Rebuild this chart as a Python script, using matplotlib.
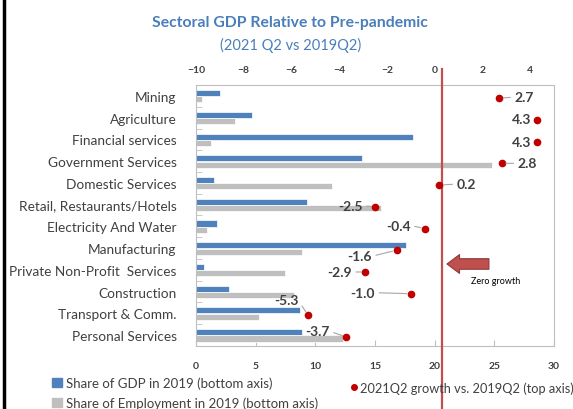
import matplotlib
matplotlib.use('Agg')
import matplotlib.pyplot as plt
from matplotlib.lines import Line2D
from matplotlib.patches import Patch
import numpy as np

categories = ['Mining', 'Agriculture', 'Financial services', 'Government Services',
              'Domestic Services', 'Retail, Restaurants/Hotels', 'Electricity And Water',
              'Manufacturing', 'Private Non-Profit  Services', 'Construction',
              'Transport & Comm.', 'Personal Services']
gdp_share = [2.0, 4.7, 18.2, 13.9, 1.5, 9.3, 1.8, 17.6, 0.7, 2.8, 8.7, 8.9]
emp_share = [0.5, 3.3, 1.3, 24.8, 11.4, 15.5, 0.9, 8.9, 7.5, 8.2, 5.3, 12.3]
growth = [2.7, 4.3, 4.3, 2.8, 0.2, -2.5, -0.4, -1.6, -2.9, -1.0, -5.3, -3.7]
growth_labels = ['2.7', '4.3', '4.3', '2.8', '0.2', '-2.5', '-0.4', '-1.6', '-2.9', '-1.0', '-5.3', '-3.7']

# label offsets from the dot, in pixels
label_off = [(25, 1), (-16, 1), (-16, 0), (26, 0), (27, 1), (-25, 1), (-27, 3),
             (-37, -6), (-26, 0), (-48, 1), (-22, 15), (-29, 6)]
show_leader = [True, False, False, True, True, True, True, True, True, True, True, True]

font = ['Lato', 'DejaVu Sans']
plt.rcParams['font.family'] = font
txt = '#404040'
blue = '#4f81bd'
grey = '#bfbfbf'
red = '#c00000'
title_col = '#4a7ebb'

fig = plt.figure(figsize=(5.73, 4.10), dpi=100)
ax = fig.add_axes([0.342, 0.154, 0.625, 0.636])

y = np.arange(len(categories))
ax.barh(y - 0.13, gdp_share, height=0.28, color=blue, edgecolor='white', linewidth=0.5, zorder=2)
ax.barh(y + 0.16, emp_share, height=0.28, color=grey, edgecolor='white', linewidth=0.5, zorder=2)
ax.set_xlim(0, 30)
ax.set_ylim(len(categories) - 0.5, -0.5)
ax.set_yticks(y)
ax.set_yticklabels(categories, fontsize=9.8, color=txt)
ax.set_yticks(np.arange(len(categories) + 1) - 0.5, minor=True)
ax.tick_params(axis='y', which='major', length=0, pad=14)
ax.tick_params(axis='y', which='minor', length=4, direction='in', color='#bfbfbf')
ax.set_xticks(np.arange(0, 31, 5))
ax.tick_params(axis='x', direction='in', length=4, color='#bfbfbf', pad=11, labelsize=7.5, labelcolor=txt)
for t in ax.get_xticklabels():
    t.set_fontweight('bold')
for s in ax.spines.values():
    s.set_color('#bfbfbf')
    s.set_linewidth(0.8)

ax2 = ax.twiny()
ax2.set_xlim(-10, 5)
ax2.set_xticks(np.arange(-10, 5, 2))
ax2.tick_params(axis='x', length=0, pad=8, labelsize=7.5, labelcolor=txt)
for t in ax2.get_xticklabels():
    t.set_fontweight('bold')
for s in ax2.spines.values():
    s.set_visible(False)

ax2.plot(growth, y + 0.1, 'o', color=red, markersize=4.5, zorder=5, clip_on=False)
for i, (g, lab) in enumerate(zip(growth, growth_labels)):
    dx = label_off[i][0]
    if show_leader[i]:
        ap = dict(arrowstyle='-', color='#a6a6a6', lw=0.8, shrinkA=1, shrinkB=3,
                  relpos=(0, 0.5) if dx > 0 else (1, 0.5))
    else:
        ap = None
    ax2.annotate(lab, xy=(g, i + 0.1), xytext=label_off[i], textcoords='offset pixels',
                 ha='center', va='center', fontsize=10, fontweight='bold', color=txt,
                 arrowprops=ap, zorder=6)

# zero growth line
ax2.plot([0.3, 0.3], [1.06, -0.49], color='#c0504d', lw=1.6, transform=ax2.get_xaxis_transform(),
         clip_on=False, zorder=4)
ax2.annotate('', xy=(0.701, 0.314), xytext=(0.818, 0.314), xycoords='axes fraction',
             arrowprops=dict(arrowstyle='simple,head_length=0.5,head_width=0.75,tail_width=0.42',
                             mutation_scale=18, fc='#c0504d', ec='#8c3836', lw=0.8,
                             shrinkA=0, shrinkB=0))
ax2.text(0.838, 0.25, 'Zero growth', transform=ax2.transAxes, ha='center', va='center',
         fontsize=6.5, color='black')

fig.text(0.506, 0.945, 'Sectoral GDP Relative to Pre-pandemic', ha='center', va='center',
         fontsize=11.3, fontweight='bold', color=title_col)
fig.text(0.508, 0.888, '(2021 Q2 vs 2019Q2)', ha='center', va='center',
         fontsize=10.5, color=title_col)

h1 = [Patch(color=blue), Patch(color=grey)]
fig.legend(h1, ['Share of GDP in 2019 (bottom axis)', 'Share of Employment in 2019 (bottom axis)'],
           loc='upper left', bbox_to_anchor=(0.08, 0.095), frameon=False, fontsize=9.5,
           handlelength=0.7, handleheight=0.7, handletextpad=0.3, labelspacing=0.55,
           borderpad=0, labelcolor=txt)
h2 = [Line2D([], [], marker='o', color=red, linestyle='none', markersize=4)]
fig.legend(h2, ['2021Q2 growth vs. 2019Q2 (top axis)'], loc='upper left',
           bbox_to_anchor=(0.6, 0.083), frameon=False, fontsize=9.2, handlelength=0.6,
           handletextpad=0.2, borderpad=0, labelcolor=txt)

fig.add_artist(Line2D([0.007, 0.007], [0, 1], color='black', lw=2.5))

fig.savefig('out.png', dpi=100)
